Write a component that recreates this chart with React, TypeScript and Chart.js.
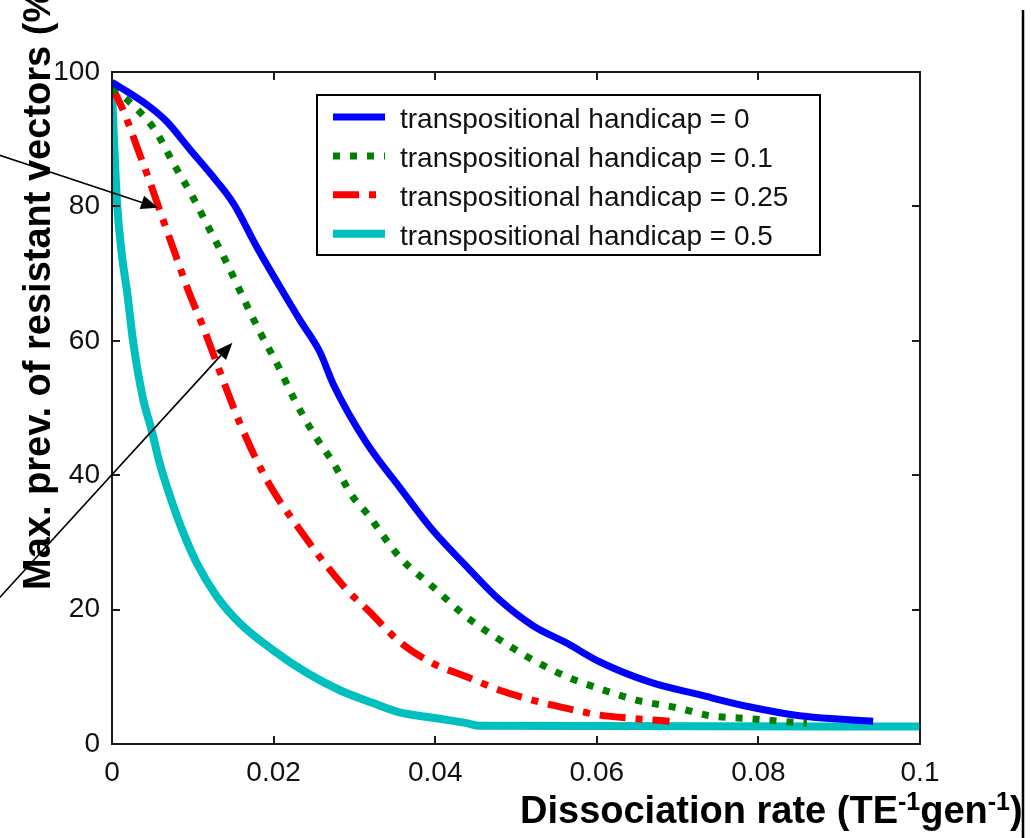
import React, { useEffect, useRef } from 'react';
import { Chart, registerables } from 'chart.js';

Chart.register(...registerables);

// ---------- data ----------
const seriesLabels = [
  'transpositional handicap = 0',
  'transpositional handicap = 0.1',
  'transpositional handicap = 0.25',
  'transpositional handicap = 0.5',
];

const h0X = [0, 0.0047, 0.0068, 0.0097, 0.0121, 0.015, 0.0179, 0.0208, 0.0233, 0.0257, 0.0274, 0.0315, 0.0356, 0.0397, 0.0439, 0.048, 0.0521, 0.0563, 0.0604, 0.0666, 0.0728, 0.079, 0.0851, 0.0913, 0.0942];
const h0Y = [98.5, 94.8, 92.6, 88.4, 85, 80.5, 74, 68, 63, 58.4, 53.5, 44.8, 38.2, 31.8, 26.4, 21.4, 17.6, 15.0, 12.2, 9.2, 7.3, 5.5, 4.2, 3.6, 3.4];

const h01X = [0, 0.0022, 0.0053, 0.0076, 0.01, 0.0121, 0.0142, 0.0162, 0.0183, 0.0205, 0.0226, 0.0249, 0.0274, 0.0298, 0.0315, 0.0356, 0.0397, 0.0439, 0.048, 0.0521, 0.0563, 0.0604, 0.065, 0.0699, 0.074, 0.0786, 0.0835, 0.086];
const h01Y = [97.6, 95.5, 91.4, 86.4, 81.4, 76.5, 71.6, 66.5, 61.3, 56.4, 51.2, 46.3, 41.8, 36.8, 34.4, 27.8, 23.4, 18.9, 15.5, 12.5, 10, 8.2, 6.5, 5.4, 4.2, 3.8, 3.3, 3.1];

const h025X = [0, 0.0012, 0.0022, 0.0031, 0.0047, 0.0062, 0.0078, 0.0094, 0.0113, 0.0136, 0.0158, 0.0187, 0.0204, 0.0233, 0.026, 0.0291, 0.0316, 0.0356, 0.0397, 0.0439, 0.048, 0.0521, 0.0563, 0.0604, 0.0645, 0.069];
const h025Y = [97.8, 94.8, 91.8, 88.8, 83.6, 78.4, 73, 67.6, 62, 54.6, 47.8, 40.3, 36.8, 31.8, 27.4, 22.9, 20, 15.2, 12, 10, 8, 6.5, 5.3, 4.3, 3.8, 3.4];

const h05X = [0, 0.0006, 0.0012, 0.0019, 0.0026, 0.0038, 0.0049, 0.0059, 0.0072, 0.0087, 0.0105, 0.013, 0.0158, 0.0199, 0.0241, 0.0282, 0.0323, 0.0356, 0.0397, 0.0439, 0.0455, 0.1];
const h05Y = [97, 81, 73, 67, 60, 51.6, 46.7, 41.8, 36.8, 31.8, 26.9, 21.9, 18, 14, 10.6, 8, 6.1, 4.7, 3.9, 3.1, 2.7, 2.6];

const xTickValues = [0, 0.02, 0.04, 0.06, 0.08, 0.1];
const xTickLabels = ['0', '0.02', '0.04', '0.06', '0.08', '0.1'];
const yTickValues = [0, 20, 40, 60, 80, 100];
const yTickLabels = ['0', '20', '40', '60', '80', '100'];

const yTitle = 'Max. prev. of resistant vectors (%)';
const xTitleParts = [
  { text: 'Dissociation rate (TE', sup: false },
  { text: '-1', sup: true },
  { text: 'gen', sup: false },
  { text: '-1', sup: true },
  { text: ')', sup: false },
];

// arrows in data coordinates
const arrowFrom1 = [-0.0139, 87.6];
const arrowTo1 = [0.0057, 79.8];
const arrowFrom2 = [-0.0139, 21.8];
const arrowTo2 = [0.0149, 59.7];

const FONT = '"Liberation Sans", Arial, Helvetica, sans-serif';

const toPts = (xs: number[], ys: number[]) => xs.map((x, i) => ({ x, y: ys[i] }));

const decorPlugin = {
  id: 'decor',
  afterDraw(chart: any) {
    const { ctx, chartArea } = chart;
    const { left, right, top, bottom } = chartArea;
    const xs = chart.scales.x;
    const ys = chart.scales.y;
    ctx.save();

    // frame
    ctx.strokeStyle = '#1a1a1a';
    ctx.lineWidth = 2;
    ctx.strokeRect(left, top, right - left, bottom - top);

    // inward ticks on all sides
    const tl = 8;
    ctx.beginPath();
    xTickValues.forEach((v) => {
      const px = Math.round(xs.getPixelForValue(v));
      ctx.moveTo(px, bottom);
      ctx.lineTo(px, bottom - tl);
      ctx.moveTo(px, top);
      ctx.lineTo(px, top + tl);
    });
    yTickValues.forEach((v) => {
      const py = Math.round(ys.getPixelForValue(v));
      ctx.moveTo(left, py);
      ctx.lineTo(left + tl, py);
      ctx.moveTo(right, py);
      ctx.lineTo(right - tl, py);
    });
    ctx.stroke();

    // legend box
    const bx = left + 205;
    const by = top + 23;
    const bw = 503;
    const bh = 160;
    ctx.fillStyle = '#ffffff';
    ctx.fillRect(bx, by, bw, bh);
    ctx.strokeStyle = '#000';
    ctx.lineWidth = 2;
    ctx.strokeRect(bx, by, bw, bh);
    chart.data.datasets.forEach((ds: any, i: number) => {
      const ry = by + 22 + i * 38.9;
      ctx.save();
      ctx.strokeStyle = ds.borderColor;
      ctx.lineWidth = ds.borderWidth;
      ctx.setLineDash(ds.borderDash || []);
      ctx.lineCap = 'butt';
      ctx.beginPath();
      ctx.moveTo(bx + 16, ry);
      ctx.lineTo(bx + 68, ry);
      ctx.stroke();
      ctx.restore();
      ctx.fillStyle = '#111';
      ctx.font = `28px ${FONT}`;
      ctx.textAlign = 'left';
      ctx.textBaseline = 'alphabetic';
      ctx.fillText(ds.label, bx + 83, ry + 11);
    });

    // arrows
    const drawArrow = (from: number[], to: number[]) => {
      const x1 = xs.getPixelForValue(from[0]);
      const y1 = ys.getPixelForValue(from[1]);
      const x2 = xs.getPixelForValue(to[0]);
      const y2 = ys.getPixelForValue(to[1]);
      const ang = Math.atan2(y2 - y1, x2 - x1);
      const hl = 17;
      const hw = 7;
      const bxp = x2 - hl * Math.cos(ang);
      const byp = y2 - hl * Math.sin(ang);
      ctx.strokeStyle = '#000';
      ctx.lineWidth = 1.6;
      ctx.setLineDash([]);
      ctx.beginPath();
      ctx.moveTo(x1, y1);
      ctx.lineTo(bxp, byp);
      ctx.stroke();
      ctx.fillStyle = '#000';
      ctx.beginPath();
      ctx.moveTo(x2, y2);
      ctx.lineTo(bxp + hw * Math.sin(ang), byp - hw * Math.cos(ang));
      ctx.lineTo(bxp - hw * Math.sin(ang), byp + hw * Math.cos(ang));
      ctx.closePath();
      ctx.fill();
    };
    drawArrow(arrowFrom1, arrowTo1);
    drawArrow(arrowFrom2, arrowTo2);

    // y title
    ctx.save();
    ctx.translate(left - 62, bottom - 154);
    ctx.rotate(-Math.PI / 2);
    ctx.fillStyle = '#000';
    ctx.font = `bold 38px ${FONT}`;
    ctx.textAlign = 'left';
    ctx.textBaseline = 'alphabetic';
    ctx.fillText(yTitle, 0, 0);
    ctx.restore();

    // x title with superscripts
    let cx = left + 408;
    const base = bottom + 79;
    ctx.fillStyle = '#000';
    ctx.textAlign = 'left';
    ctx.textBaseline = 'alphabetic';
    xTitleParts.forEach((p) => {
      if (p.sup) {
        ctx.font = `bold 25px ${FONT}`;
        ctx.fillText(p.text, cx, base - 13);
      } else {
        ctx.font = `bold 38px ${FONT}`;
        ctx.fillText(p.text, cx, base);
      }
      cx += ctx.measureText(p.text).width;
    });

    // figure edge line at right
    ctx.strokeStyle = '#000';
    ctx.lineWidth = 2.5;
    ctx.beginPath();
    ctx.moveTo(chart.width - 8, 10);
    ctx.lineTo(chart.width - 8, chart.height);
    ctx.stroke();

    ctx.restore();
  },
};

export default function App() {
  const canvasRef = useRef<HTMLCanvasElement | null>(null);

  useEffect(() => {
    document.body.style.margin = '0';
    const canvas = canvasRef.current;
    if (!canvas) return;
    const chart = new Chart(canvas, {
      type: 'line',
      data: {
        datasets: [
          {
            label: seriesLabels[0],
            data: toPts(h0X, h0Y),
            borderColor: '#0000ff',
            borderWidth: 7,
            pointRadius: 0,
            cubicInterpolationMode: 'monotone',
          },
          {
            label: seriesLabels[1],
            data: toPts(h01X, h01Y),
            borderColor: '#007f00',
            borderWidth: 7,
            borderDash: [7, 10],
            pointRadius: 0,
            cubicInterpolationMode: 'monotone',
          },
          {
            label: seriesLabels[2],
            data: toPts(h025X, h025Y),
            borderColor: '#ff0000',
            borderWidth: 7,
            borderDash: [26, 10, 7, 10],
            pointRadius: 0,
            cubicInterpolationMode: 'monotone',
          },
          {
            label: seriesLabels[3],
            data: toPts(h05X, h05Y),
            borderColor: '#00bfbf',
            borderWidth: 8,
            pointRadius: 0,
            cubicInterpolationMode: 'monotone',
          },
        ],
      },
      options: {
        responsive: false,
        animation: false,
        layout: { padding: { left: 0, top: 72, right: 111, bottom: 0 } },
        plugins: {
          legend: { display: false },
          tooltip: { enabled: false },
          title: { display: false },
        },
        scales: {
          x: {
            type: 'linear',
            min: 0,
            max: 0.1,
            grid: { display: false, drawTicks: false },
            border: { display: false },
            afterFit: (s: any) => {
              s.height = 94;
            },
            afterBuildTicks: (s: any) => {
              s.ticks = xTickValues.map((v) => ({ value: v }));
            },
            ticks: {
              autoSkip: false,
              maxRotation: 0,
              padding: 12,
              color: '#111',
              font: { family: FONT, size: 28 },
              callback: (_v: any, i: number) => xTickLabels[i],
            },
          },
          y: {
            type: 'linear',
            min: 0,
            max: 100,
            grid: { display: false, drawTicks: false },
            border: { display: false },
            afterFit: (s: any) => {
              s.width = 112;
            },
            afterBuildTicks: (s: any) => {
              s.ticks = yTickValues.map((v) => ({ value: v }));
            },
            ticks: {
              autoSkip: false,
              padding: 12,
              color: '#111',
              font: { family: FONT, size: 28 },
              callback: (_v: any, i: number) => yTickLabels[i],
            },
          },
        },
      },
      plugins: [decorPlugin],
    });
    return () => chart.destroy();
  }, []);

  return (
    <div style={{ width: 1031, height: 838, background: '#fff' }}>
      <canvas ref={canvasRef} width={1031} height={838} style={{ display: 'block' }} />
    </div>
  );
}
